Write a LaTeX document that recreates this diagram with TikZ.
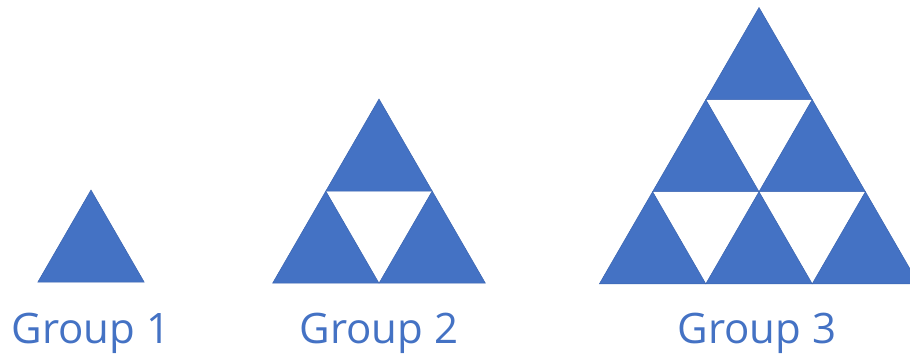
\documentclass[tikz,border=0pt]{standalone}
\usepackage{fontspec}
\setmainfont{Open Sans}
\definecolor{tri}{HTML}{4472C4}
\definecolor{triedge}{HTML}{3A64B0}
\begin{document}
\begin{tikzpicture}[x=1pt,y=-1pt,
  tri/.style={fill=tri,draw=triedge,line width=0.5pt,line join=miter},
  lbl/.style={text=tri,font=\fontsize{42}{48}\selectfont,anchor=base,inner sep=0pt}]
\useasboundingbox (0,0) rectangle (910,354);
\clip (0,0) rectangle (910,354);
\def\s{106.4}
\def\h{92.1}
% Group 1
\draw[tri] (91,190) -- ++(\s/2,\h) -- ++(-\s,0) -- cycle;
% Group 2
\foreach \k in {0,1}{
  \foreach \j in {0,...,\k}{
    \draw[tri] ({379+(\j-\k/2)*\s},{99+\k*\h}) -- ++(\s/2,\h) -- ++(-\s,0) -- cycle;
  }
}
% Group 3
\foreach \k in {0,1,2}{
  \foreach \j in {0,...,\k}{
    \draw[tri] ({759+(\j-\k/2)*\s},{7.5+\k*\h}) -- ++(\s/2,\h) -- ++(-\s,0) -- cycle;
  }
}
\node[lbl] (g1) at (91,343) {Group 1};
\node[lbl] (g2) at (379,343) {Group 2};
\node[lbl] (g3) at (757,343) {Group 3};
\end{tikzpicture}
\end{document}
